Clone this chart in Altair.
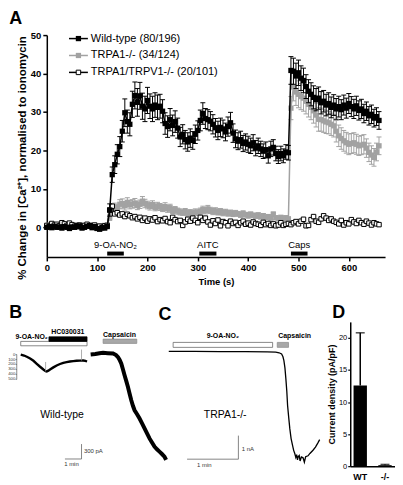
import altair as alt
import pandas as pd

FONT = "Liberation Sans"

# ======================= Panel A : Ca2+ imaging time course =======================
times = list(range(0, 661, 5))

wt = [0.0, 0.2, -0.1, 0.3, 0.0, 0.1, -0.2, 0.2, 0.0, -0.3, 0.1, 0.0, 0.4, 0.2, -0.2, 0.0, 0.3, 0.5, -0.1, 0.2, -0.3, -0.5, 0.0, -0.2,
      0.2, 4.5, 13.7, 16.3, 19.0, 21.0, 25.0, 29.8, 27.5, 26.8, 32.0, 34.3,
      32.5, 34.2, 31.5, 30.8, 33.0, 31.5, 30.8, 31.8, 31.2, 31.5, 30.2, 27.0,
      26.2, 28.0, 26.5, 27.5, 25.8, 23.5, 24.2, 22.8, 22.2, 23.2, 22.6, 24.2,
      25.2, 27.8, 29.6, 28.3, 28.0, 27.6, 26.8, 25.9, 25.2, 26.0, 25.6, 24.8,
      26.2, 27.2, 24.5, 23.0, 22.4, 22.8, 21.8, 22.2, 21.6, 21.2, 22.0, 20.6,
      21.2, 20.4, 19.8, 20.2, 18.6, 20.4, 20.8, 19.2, 18.4, 19.2, 18.6, 19.6,
      19.4, 40.8, 40.6, 39.4, 40.2, 38.8, 38.2, 36.6, 35.4, 34.6, 33.8, 33.2,
      33.6, 32.4, 32.8, 31.8, 32.2, 31.2, 31.8, 30.8, 31.4, 30.6, 31.8, 31.0,
      32.2, 31.4, 30.8, 31.6, 30.4, 30.8, 29.6, 30.2, 29.0, 29.4, 28.4, 28.8,
      27.8]
wt_sem = [0.3, 0.3, 0.4, 0.3, 0.3, 0.4, 0.3, 0.3, 0.3, 0.4, 0.3, 0.3, 0.4, 0.3, 0.3, 0.3, 0.4, 0.3, 0.3, 0.3, 0.4, 0.3, 0.3, 0.3,
          0.4, 1.6, 2.0, 2.3, 2.5, 2.6, 2.8, 3.6, 3.0, 3.0, 3.4, 3.5,
          3.6, 3.5, 3.4, 3.3, 3.4, 3.2, 3.3, 3.2, 3.2, 3.1, 3.0, 2.8,
          2.8, 2.9, 2.7, 2.8, 2.6, 2.5, 2.5, 2.4, 2.4, 2.4, 2.3, 2.4,
          2.5, 2.7, 2.8, 2.6, 2.6, 2.5, 2.5, 2.4, 2.4, 2.4, 2.3, 2.3,
          2.5, 2.7, 2.4, 2.3, 2.2, 2.2, 2.1, 2.1, 2.1, 2.0, 2.1, 2.0,
          2.0, 2.0, 1.9, 2.0, 1.9, 2.0, 2.0, 1.9, 1.8, 1.9, 1.8, 1.9,
          1.9, 3.6, 3.4, 3.3, 3.3, 3.2, 3.2, 3.1, 3.0, 3.0, 3.0, 2.9,
          2.9, 2.9, 2.8, 2.8, 2.8, 2.7, 2.7, 2.7, 2.7, 2.6, 2.6, 2.6,
          2.6, 2.6, 2.5, 2.5, 2.5, 2.5, 2.4, 2.4, 2.4, 2.4, 2.3, 2.3,
          2.3]

trpa1 = [0.3, 0.6, 0.9, 0.5, 0.7, 0.4, 1.0, 0.6, 0.3, 0.5, 0.2, 0.4, 0.7, 0.3, 0.5, 0.2, 0.4, 0.6, 0.3, 0.5, 0.2, 0.4, 0.3, 0.5,
         0.6, 2.6, 4.2, 5.2, 4.9, 6.0, 6.2, 5.6, 6.5, 5.9, 6.1, 6.3,
         5.7, 6.0, 6.8, 6.2, 5.8, 5.5, 5.9, 5.2, 5.5, 5.3, 5.0, 5.4,
         4.8, 5.1, 4.4, 4.6, 4.2, 4.0, 3.8, 4.1, 3.6, 3.9, 3.5, 4.0,
         3.8, 4.2, 4.6, 4.3, 4.8, 4.4, 4.1, 4.3, 3.9, 4.1, 3.7, 4.0,
         3.6, 3.8, 3.4, 3.7, 3.5, 3.2, 3.6, 3.3, 3.0, 3.4, 3.1, 2.9,
         3.2, 2.7, 3.0, 2.6, 2.8, 2.4, 3.4, 2.5, 2.2, 2.6, 2.3, 2.5,
         2.2, 31.0, 36.5, 35.2, 34.6, 34.0, 33.6, 32.8, 32.0, 31.2, 30.3, 29.2,
         28.1, 28.0, 27.7, 27.4, 27.2, 26.8, 26.4, 25.0, 23.8, 23.1, 22.5, 22.0,
         21.6, 21.8, 22.0, 21.6, 21.2, 21.4, 21.6, 20.6, 19.5, 18.8, 18.2, 19.6,
         21.2]
trpa1_sem = [0.3, 0.3, 0.4, 0.3, 0.3, 0.3, 0.4, 0.3, 0.3, 0.3, 0.3, 0.3, 0.4, 0.3, 0.3, 0.3, 0.3, 0.4, 0.3, 0.3, 0.3, 0.3, 0.3, 0.3,
             0.4, 0.8, 1.0, 1.1, 1.0, 1.2, 1.2, 1.1, 1.2, 1.1, 1.1, 1.2,
             1.1, 1.1, 1.2, 1.1, 1.0, 1.0, 1.0, 0.9, 1.0, 0.9, 0.9, 1.0,
             0.9, 0.9, 0.8, 0.8, 0.8, 0.8, 0.7, 0.8, 0.7, 0.7, 0.7, 0.8,
             0.7, 0.8, 0.9, 0.8, 0.9, 0.8, 0.8, 0.8, 0.7, 0.8, 0.7, 0.7,
             0.7, 0.7, 0.6, 0.7, 0.6, 0.6, 0.7, 0.6, 0.6, 0.6, 0.6, 0.6,
             0.6, 0.5, 0.6, 0.5, 0.5, 0.5, 0.6, 0.5, 0.5, 0.5, 0.5, 0.5,
             0.5, 3.0, 3.6, 3.5, 3.5, 3.4, 3.4, 3.3, 3.3, 3.2, 3.2, 3.1,
             3.1, 3.0, 3.0, 3.0, 2.9, 2.9, 2.9, 2.8, 2.8, 2.8, 2.7, 2.7,
             2.7, 2.6, 2.6, 2.6, 2.5, 2.5, 2.5, 2.4, 2.4, 2.4, 2.3, 2.3,
             2.3]

dko = [0.5, 0.3, 1.0, 0.6, 0.8, 0.4, 1.2, 0.9, 0.5, 1.1, 0.7, 0.3, 0.2, 0.6, 0.4, 0.5, 0.8, 0.3, 0.2, 0.6, -0.2, 0.3, -0.1, 0.4,
       0.5, 4.5, 5.5, 3.5, 3.8, 3.2, 3.5, 2.8, 3.4, 3.0, 2.5, 2.8,
       2.2, 2.6, 1.8, 2.4, 1.6, 2.2, 1.9, 2.5, 1.5, 2.0, 1.7, 2.3,
       1.5, 1.2, 2.6, 2.0, 1.5, 1.8, 0.5, 1.4, 2.1, 1.6, 2.4, 1.8,
       1.2, 2.6, 1.8, 2.4, 1.4, 0.6, 1.7, 1.0, 1.9, 0.4, 1.5, 1.2,
       0.4, 1.6, 1.0, 1.3, 0.5, 1.2, 1.6, 0.8, 1.1, 0.6, 1.4, 1.0,
       0.8, 0.5, 1.3, 0.7, 1.0, 0.5, 0.9, 0.4, 0.6, 1.2, 0.5, 0.8,
       1.0, 0.7, 1.2, 1.5, 0.9, 1.6, 2.1, 0.4, 0.5, 2.0, 2.8, 1.6,
       1.3, 2.2, 3.0, 2.4, 1.8, 2.2, 1.6, 1.3, 0.9, 1.8, 0.6, 1.2,
       0.9, 2.0, 1.4, 1.0, 1.8, 1.2, 0.8, 1.6, 1.1, 0.6, 1.2, 0.9,
       0.7]

for arr in (wt, wt_sem, trpa1, trpa1_sem, dko):
    assert len(arr) == len(times), len(arr)

legend_labels = ["Wild-type (80/196)", "TRPA1-/- (34/124)", "TRPA1/TRPV1-/- (20/101)"]
stimA_labels = ["9-OA-NO₂", "AITC", "Caps"]
stimA_start = [120, 303, 485]
stimA_end = [153, 337, 518]

# ======================= Panel B / C : patch-clamp traces =======================
b1_t = [0, 12, 24, 34, 46, 58, 70, 82, 90, 94, 100, 106, 118, 130, 142, 154, 166, 178, 190, 202, 214, 226, 234, 240]
b1_i = [0, -20, -50, -80, -125, -186, -245, -300, -335, -340, -325, -300, -258, -220, -190, -166, -152, -140, -132, -126, -122, -120, -128, -140]
b2_t = [253, 270, 285, 298, 315, 334, 345, 352, 358, 364, 370, 376, 382, 388, 394, 400, 406, 412, 421, 430,
        439, 448, 457, 466, 475, 484, 493, 502, 511, 520, 526]
b2_i = [0, 10, 25, 34, 28, 20, -10, -52, -110, -186, -300, -420, -535, -652, -790, -920, -1030, -1120, -1200, -1286,
        -1385, -1486, -1585, -1686, -1770, -1852, -1905, -1952, -2000, -2052, -2120]
b_spike_t = [90, 220]
b_spike_lo = [-340, -120]
b_spike_hi = [-150, 100]
b_inset_ticks = [0, 100, 200, 300, 400, 500]
stimB_labels = ["9-OA-NO₂", "HC030031", "Capsaicin"]
stimB_start = [0, 102, 298]
stimB_end = [240, 240, 420]

c_t = [0, 30, 60, 90, 115, 125, 129, 131.9, 133.5, 134.6, 135.8, 136.9, 138, 138.9, 140.2, 141.5, 143, 144.7, 146, 147.3,
       148.5, 149.5, 150.5, 151.2, 152.5, 153.5, 155, 157, 158.5, 160, 162.8, 165, 168.6, 171.5, 174.5, 176.4]
c_i = [0, -5, -10, -15, -25, -35, -60, -114, -230, -397, -700, -1169, -1700, -2296, -2800, -3279, -3700, -3984, -4200, -4334,
       -4500, -4380, -4600, -4473, -4420, -4650, -4480, -4515, -4700, -4470, -4431, -4330, -4195, -4060, -3870, -3743]
stimC_labels = ["9-OA-NO₂", "Capsaicin"]
stimC_start = [5.1, 126.8]
stimC_end = [121.4, 140.0]

# ======================= Panel D : current density =======================
d_groups = ["WT", "-/-"]
d_mean = [12.6, 0.15]
d_sem = [8.2, 0.12]

# ---------------------------------------------------------------------------
# Panel A
PA_W, PA_H = 340, 223
XA_DOM = [0, 672]
YA_DOM = [-7.7, 50]
YTITLE = "% Change in [Ca²⁺], normalised to ionomycin"

axA_x = alt.Axis(values=[0, 100, 200, 300, 400, 500, 600], grid=False, labelFontSize=9.5, labelFontWeight="bold",
                 titleFontSize=9.5, titleFontWeight="bold", tickSize=4, tickWidth=1.5, domainWidth=1.5,
                 labelPadding=2, titlePadding=4, labelFlush=False)
axA_y = alt.Axis(values=[0, 10, 20, 30, 40, 50], grid=False, labelFontSize=9.5, labelFontWeight="bold",
                 titleFontSize=11.5, titleFontWeight="bold", tickSize=4, tickWidth=1.5, domainWidth=1.5,
                 labelPadding=2, titlePadding=3, titleY=123)


def xA(f):
    return alt.X(f, type="quantitative", scale=alt.Scale(domain=XA_DOM, nice=False, zero=False), axis=axA_x, title="Time (s)")


def yA(f):
    return alt.Y(f, type="quantitative", scale=alt.Scale(domain=YA_DOM, nice=False, zero=False), axis=axA_y, title=YTITLE)


def series_layers(values, sems, color, fill, stroke, stroke_w, lw, size):
    df = pd.DataFrame({"t": times, "v": values})
    base = alt.Chart(df)
    out = []
    if sems is not None:
        df["sem"] = sems
        e = alt.Chart(df).transform_calculate(lo="datum.v - datum.sem", hi="datum.v + datum.sem")
        out.append(e.mark_rule(color=color, strokeWidth=1).encode(x=xA("t"), y=yA("lo"), y2="hi:Q"))
        out.append(e.mark_rule(color=color, strokeWidth=1, xOffset=-2.5, x2Offset=2.5).encode(x=xA("t"), x2="t:Q", y=yA("hi")))
        out.append(e.mark_rule(color=color, strokeWidth=1, xOffset=-2.5, x2Offset=2.5).encode(x=xA("t"), x2="t:Q", y=yA("lo")))
    out.append(base.mark_line(color=color, strokeWidth=lw).encode(x=xA("t"), y=yA("v")))
    out.append(base.mark_point(shape="square", filled=True, fill=fill, stroke=stroke, strokeWidth=stroke_w,
                               size=size, opacity=1).encode(x=xA("t"), y=yA("v")))
    return out


GRAY = "#a2a2a2"
layersA = []
layersA += series_layers(trpa1, trpa1_sem, GRAY, GRAY, GRAY, 0, 1.5, 28)
layersA += series_layers(dko, None, "black", "white", "black", 1, 1, 20)
layersA += series_layers(wt, wt_sem, "black", "black", "black", 0, 1.5, 28)

stimA = pd.DataFrame({"label": stimA_labels, "start": stimA_start, "end": stimA_end})
layersA.append(alt.Chart(stimA).mark_rule(color="black", strokeWidth=4).encode(
    x=xA("start"), x2="end:Q", y=alt.value(PA_H - 3.4)))
layersA.append(alt.Chart(stimA).transform_calculate(mid="(datum.start + datum.end) / 2").mark_text(
    fontSize=9.5, color="black", baseline="middle").encode(x=xA("mid"), y=alt.value(PA_H - 12.4), text="label:N"))

leg_styles = [("black", "black", "black", 0, 28), (GRAY, GRAY, GRAY, 0, 28), ("black", "white", "black", 1, 20)]
for i, (lab, (col, fil, stk, sw, sz)) in enumerate(zip(legend_labels, leg_styles)):
    ldf = pd.DataFrame({"label": [lab]})
    yy = 3.5 + 17 * i
    layersA.append(alt.Chart(ldf).mark_rule(color=col, strokeWidth=1.5).encode(
        x=alt.value(22.3), x2=alt.value(41.3), y=alt.value(yy)))
    layersA.append(alt.Chart(ldf).mark_point(shape="square", filled=True, fill=fil, stroke=stk, strokeWidth=sw,
                                             size=sz, opacity=1).encode(x=alt.value(31.8), y=alt.value(yy)))
    layersA.append(alt.Chart(ldf).mark_text(align="left", baseline="middle", fontSize=11, color="black").encode(
        x=alt.value(44.3), y=alt.value(yy), text="label:N"))

layersA.append(alt.Chart(pd.DataFrame({"s": ["A"]})).mark_text(
    align="left", baseline="alphabetic", fontSize=18, fontWeight="bold", color="black").encode(
    x=alt.value(-37.7), y=alt.value(-11.5), text="s:N"))

chartA = alt.layer(*layersA).properties(width=PA_W, height=PA_H)

# ---------------------------------------------------------------------------
# Panels B + C: one plot area that starts where panel A's plot starts; the
# traces extend to the left of it through their own scales.
BC_X0 = 45.7           # page x of the plot-area origin (same as panel A)
BC_X1 = 320.0
BC_W, BC_H = BC_X1 - BC_X0, 145
B_T0_PX, B_S_PER_PX = 19.5, 3.6       # trace B: t = 0 at page x 19.5, 1 min = 16.7 px
C_T0_PX, C_S_PER_PX = 168.3, 1.163    # trace C: t = 0 at page x 168.3, 1 min = 51.6 px
B_XD = [(BC_X0 - B_T0_PX) * B_S_PER_PX, (BC_X1 - B_T0_PX) * B_S_PER_PX]
C_XD = [(BC_X0 - C_T0_PX) * C_S_PER_PX, (BC_X1 - C_T0_PX) * C_S_PER_PX]
B_YD = [-(BC_H - 32.8) * 20, 32.8 * 20]          # 20 pA per px, 0 pA 32.8 px below top
C_YD = [-(BC_H - 29.6) * 42.2, 29.6 * 42.2]      # 42.2 pA per px, 0 pA 29.6 px below top


def px(page_x):
    return page_x - BC_X0


def bx(f):
    return alt.X(f, type="quantitative", scale=alt.Scale(domain=B_XD, nice=False, zero=False), axis=None)


def by(f):
    return alt.Y(f, type="quantitative", scale=alt.Scale(domain=B_YD, nice=False, zero=False), axis=None)


def cx(f):
    return alt.X(f, type="quantitative", scale=alt.Scale(domain=C_XD, nice=False, zero=False), axis=None)


def cy(f):
    return alt.Y(f, type="quantitative", scale=alt.Scale(domain=C_YD, nice=False, zero=False), axis=None)


def label(txt, x, y, size, weight="normal", align="left", color="black"):
    return alt.Chart(pd.DataFrame({"s": [txt]})).mark_text(
        align=align, baseline="middle", fontSize=size, fontWeight=weight, color=color).encode(
        x=alt.value(x), y=alt.value(y), text="s:N")


layersBC = []
layersBC.append(alt.Chart(pd.DataFrame({"t": b1_t, "i": b1_i})).mark_line(color="black", strokeWidth=2.4).encode(
    x=bx("t"), y=by("i")))
layersBC.append(alt.Chart(pd.DataFrame({"t": b2_t, "i": b2_i})).mark_line(color="black", strokeWidth=4).encode(
    x=bx("t"), y=by("i")))
layersBC.append(alt.Chart(pd.DataFrame({"t": b_spike_t, "lo": b_spike_lo, "hi": b_spike_hi})).mark_rule(
    color="#999999", strokeWidth=0.8).encode(x=bx("t"), y=by("lo"), y2="hi:Q"))
stimB = pd.DataFrame({"label": stimB_labels, "start": stimB_start, "end": stimB_end})
bar_rows = {"9-OA-NO₂": (19.6, 24.0, "white", "#555555"), "HC030031": (15.0, 19.6, "black", "black"),
            "Capsaicin": (17.3, 21.6, "#a8a8a8", "#8a8a8a")}
lab_pos = {"9-OA-NO₂": (-5.3, 15.6), "HC030031": (2.3, 10.0), "Capsaicin": (0.0, 13.0)}
for lab in stimB_labels:
    y0, y1, fil, stk = bar_rows[lab]
    sub = alt.Chart(stimB).transform_filter(alt.datum.label == lab)
    layersBC.append(sub.mark_rect(fill=fil, stroke=stk, strokeWidth=0.7).encode(
        x=bx("start"), x2="end:Q", y=alt.value(y0), y2=alt.value(y1)))
    dx, yl = lab_pos[lab]
    layersBC.append(sub.mark_text(align="left", baseline="middle", fontSize=7, fontWeight="bold", color="black",
                                  dx=dx).encode(x=bx("start"), y=alt.value(yl), text="label:N"))
ins = pd.DataFrame({"v": b_inset_ticks})
ins["neg"] = [-v for v in b_inset_ticks]
ins["lab"] = [str(v) for v in b_inset_ticks]
layersBC.append(alt.Chart(ins).transform_aggregate(lo="min(neg)", hi="max(neg)").mark_rule(
    color="#555555", strokeWidth=0.7).encode(x=alt.value(px(15.5)), y=by("lo"), y2="hi:Q"))
layersBC.append(alt.Chart(ins).mark_rule(color="#555555", strokeWidth=0.7).encode(
    x=alt.value(px(14.4)), x2=alt.value(px(15.5)), y=by("neg")))
layersBC.append(alt.Chart(ins).mark_text(align="right", baseline="middle", fontSize=4.3, color="#333333").encode(
    x=alt.value(px(14.1)), y=by("neg"), text="lab:N"))
sbB = pd.DataFrame({"t0": [220 - 60], "t1": [220], "i0": [-2100], "i1": [-2100 + 300]})
layersBC.append(alt.Chart(sbB).mark_rule(color="#666666", strokeWidth=0.8).encode(x=bx("t0"), x2="t1:Q", y=by("i0")))
layersBC.append(alt.Chart(sbB).mark_rule(color="#666666", strokeWidth=0.8).encode(x=bx("t1"), y=by("i0"), y2="i1:Q"))
layersBC.append(label("300 pA", px(83), 129.6, 6, color="#333333"))
layersBC.append(label("1 min", px(70.5), 143.3, 6, align="center", color="#333333"))
layersBC.append(label("Wild-type", px(61), 93.3, 10.5, align="center"))
layersBC.append(alt.Chart(pd.DataFrame({"s": ["B"]})).mark_text(
    align="left", baseline="alphabetic", fontSize=18, fontWeight="bold", color="black").encode(
    x=alt.value(px(8)), y=alt.value(-3.7), text="s:N"))

layersBC.append(alt.Chart(pd.DataFrame({"t": c_t, "i": c_i})).mark_line(color="black", strokeWidth=1.3).encode(
    x=cx("t"), y=cy("i")))
stimC = pd.DataFrame({"label": stimC_labels, "start": stimC_start, "end": stimC_end})
layersBC.append(alt.Chart(stimC).transform_filter(alt.datum.label == "9-OA-NO₂").mark_rect(
    fill="white", stroke="#555555", strokeWidth=0.7).encode(x=cx("start"), x2="end:Q", y=alt.value(20.6), y2=alt.value(25.6)))
layersBC.append(alt.Chart(stimC).transform_filter(alt.datum.label == "Capsaicin").mark_rect(
    fill="#a8a8a8", stroke="#8a8a8a", strokeWidth=0.7).encode(x=cx("start"), x2="end:Q", y=alt.value(20.6), y2=alt.value(25.6)))
layersBC.append(alt.Chart(stimC).transform_filter(alt.datum.label == "9-OA-NO₂").transform_calculate(
    mid="(datum.start + datum.end) / 2").mark_text(align="center", baseline="middle", fontSize=7, fontWeight="bold",
                                                   color="black").encode(x=cx("mid"), y=alt.value(14), text="label:N"))
layersBC.append(alt.Chart(stimC).transform_filter(alt.datum.label == "Capsaicin").mark_text(
    align="left", baseline="middle", fontSize=7, fontWeight="bold", color="black", dx=1).encode(
    x=cx("start"), y=alt.value(14), text="label:N"))
sbC = pd.DataFrame({"t0": [81.4 - 60], "t1": [81.4], "i0": [-4574], "i1": [-4574 + 1000]})
layersBC.append(alt.Chart(sbC).mark_rule(color="#666666", strokeWidth=0.8).encode(x=cx("t0"), x2="t1:Q", y=cy("i0")))
layersBC.append(alt.Chart(sbC).mark_rule(color="#666666", strokeWidth=0.8).encode(x=cx("t1"), y=cy("i0"), y2="i1:Q"))
layersBC.append(label("1 nA", px(241.7), 128, 6, color="#333333"))
layersBC.append(label("1 min", px(204), 144, 6, align="center", color="#333333"))
layersBC.append(label("TRPA1-/-", px(225), 93.3, 10.5, align="center"))
layersBC.append(alt.Chart(pd.DataFrame({"s": ["C"]})).mark_text(
    align="left", baseline="alphabetic", fontSize=18, fontWeight="bold", color="black").encode(
    x=alt.value(px(158)), y=alt.value(-1.7), text="s:N"))

chartBC = alt.layer(*layersBC).resolve_scale(x="independent", y="independent").properties(width=BC_W, height=BC_H)

# ---------------------------------------------------------------------------
# Panel D
dfD = pd.DataFrame({"group": d_groups, "mean": d_mean, "sem": d_sem})
xD = alt.X("group:N", sort=d_groups, scale=alt.Scale(paddingInner=0.46, paddingOuter=0.134),
           axis=alt.Axis(labelAngle=0, labelFontSize=9, labelFontWeight="bold", ticks=False, tickSize=0,
                         labelPadding=6, domainWidth=1.5), title=None)
axD_y = alt.Axis(values=[0, 5, 10, 15, 20], grid=False, labelFontSize=7.5, tickSize=2.5, tickWidth=1.2,
                 domainWidth=1.5, labelPadding=1, titleFontSize=9, titleFontWeight="bold", titlePadding=1.5)


def yD(f):
    return alt.Y(f, type="quantitative", scale=alt.Scale(domain=[0, 22.5], nice=False), axis=axD_y,
                 title="Current density (pA/pF)")


baseD = alt.Chart(dfD).transform_calculate(hi="datum.mean + datum.sem")
chartD = alt.layer(
    baseD.mark_bar(color="black").encode(x=xD, y=yD("mean")),
    baseD.mark_rule(color="black", strokeWidth=1.5).encode(x=xD, y=yD("mean"), y2="hi:Q"),
    baseD.mark_tick(color="black", size=9, thickness=1.5).encode(x=xD, y=yD("hi")),
    alt.Chart(pd.DataFrame({"s": ["D"]})).mark_text(
        align="left", baseline="alphabetic", fontSize=18, fontWeight="bold", color="black").encode(
        x=alt.value(-18), y=alt.value(-3.7), text="s:N"),
).properties(width=45, height=BC_H)

row = alt.hconcat(chartBC, chartD, spacing=5)

chart = alt.vconcat(chartA, row, spacing=18.3).properties(padding=0).configure(font=FONT).configure_view(
    stroke=None).configure_axis(labelColor="black", titleColor="black", domainColor="black", tickColor="black",
                                labelFont=FONT, titleFont=FONT)

chart.save("out.html", embed_options={"renderer": "svg", "actions": False})
